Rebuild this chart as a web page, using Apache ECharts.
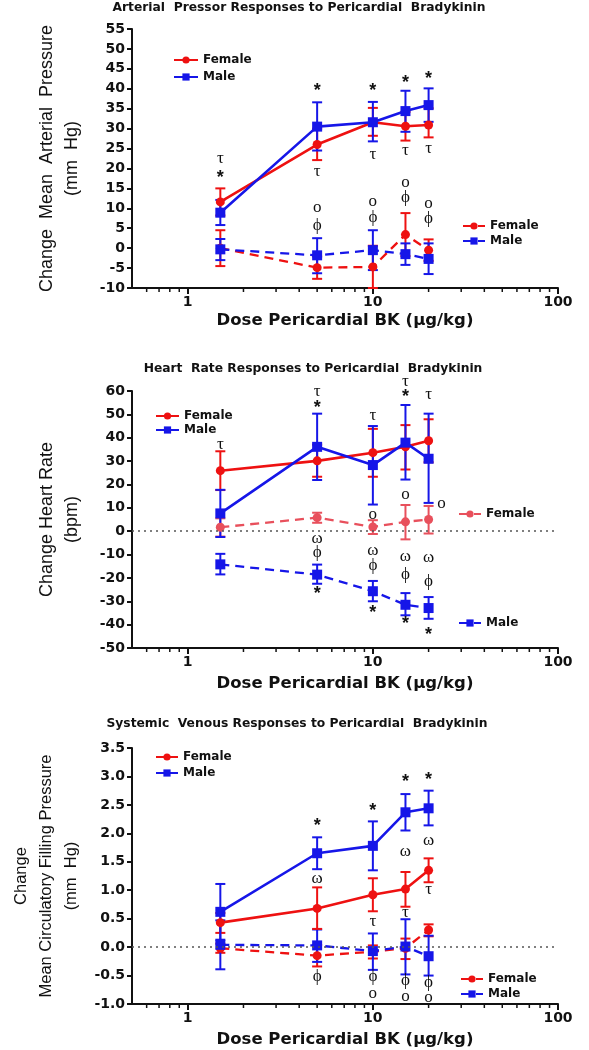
<!DOCTYPE html>
<html><head><meta charset="utf-8">
<script src="https://cdn.jsdelivr.net/npm/echarts@6/dist/echarts.min.js"></script>
<style>html,body{margin:0;padding:0;background:#fff}#c{width:589px;height:1050px}</style>
</head><body><div id="c"></div>
<script>
// ---------- data ----------
const DOSES = [1.5, 5, 10, 15, 20];
const X_MAJOR_TICKS = [1, 10, 100];
const X_MINOR_TICKS = [0.6, 0.7, 0.8, 0.9, 2, 3, 4, 5, 6, 7, 8, 9, 20, 30, 40, 50, 60, 70, 80, 90];

const TITLES = [
  'Arterial  Pressor Responses to Pericardial  Bradykinin',
  'Heart  Rate Responses to Pericardial  Bradykinin',
  'Systemic  Venous Responses to Pericardial  Bradykinin'
];
const Y_NAMES = [
  'Change  Mean  Arterial  Pressure\n(mm  Hg)',
  'Change Heart Rate\n(bpm)',
  'Change\nMean Circulatory Filling Pressure\n(mm  Hg)'
];
const X_NAME = 'Dose Pericardial BK (\u03bcg/kg)';

// Panel 1: mean arterial pressure (mm Hg)
const P1_FEMALE    = [11.6, 26.0, 31.6, 30.6, 30.9];
const P1_FEMALE_LO = [8.2, 22.1, 28.2, 27.0, 27.8];
const P1_FEMALE_HI = [15.0, 30.0, 35.2, 34.2, 35.1];
const P1_MALE      = [8.9, 30.5, 31.6, 34.4, 35.9];
const P1_MALE_LO   = [5.8, 24.5, 26.8, 29.2, 31.7];
const P1_MALE_HI   = [12.1, 36.6, 36.7, 39.5, 40.1];
const P1_FEMALE_D    = [0.0, -4.9, -4.7, 3.4, -0.5];
const P1_FEMALE_D_LO = [-4.5, -7.7, -10.0, -2.0, -3.2];
const P1_FEMALE_D_HI = [4.5, -2.1, 0.6, 8.8, 2.2];
const P1_MALE_D    = [-0.3, -1.8, -0.5, -1.5, -2.7];
const P1_MALE_D_LO = [-3.0, -6.3, -5.5, -4.2, -6.5];
const P1_MALE_D_HI = [2.3, 2.5, 4.5, 1.2, 1.2];
const P1_ANNOT = [
  [1.5, 22.5, '\u03c4'], [1.5, 18.7, '*'],
  [5, 40.4, '*'], [5, 19.3, '\u03c4'], [5, 10.3, 'o'], [5, 5.7, '\u03d5'],
  [10, 40.4, '*'], [10, 23.6, '\u03c4'], [10, 11.8, 'o'], [10, 7.6, '\u03d5'],
  [15, 42.5, '*'], [15, 24.6, '\u03c4'], [15, 16.5, 'o'], [15, 12.6, '\u03d5'],
  [20, 43.5, '*'], [20, 25.0, '\u03c4'], [20, 11.3, 'o'], [20, 7.4, '\u03d5']
];

// Panel 2: heart rate (bpm)
const P2_FEMALE    = [25.9, 30.1, 33.6, 36.1, 38.7];
const P2_FEMALE_LO = [17.6, 23.3, 23.3, 26.4, 29.5];
const P2_FEMALE_HI = [34.2, 37.0, 43.8, 45.4, 47.9];
const P2_MALE      = [7.6, 36.1, 28.3, 37.9, 31.0];
const P2_MALE_LO   = [-2.5, 21.9, 11.4, 22.1, 12.1];
const P2_MALE_HI   = [17.7, 50.3, 45.0, 54.0, 50.3];
const P2_FEMALE_D    = [1.7, 5.8, 1.8, 4.0, 5.0];
const P2_FEMALE_D_LO = [-2.3, 3.6, -1.2, -3.5, -1.0];
const P2_FEMALE_D_HI = [5.5, 7.9, 4.7, 11.2, 10.8];
const P2_MALE_D    = [-14.2, -18.6, -25.7, -31.5, -32.9];
const P2_MALE_D_LO = [-18.5, -22.5, -30.0, -36.0, -37.5];
const P2_MALE_D_HI = [-9.7, -14.3, -21.3, -26.5, -28.2];
const P2_ANNOT = [
  [1.5, 37.0, '\u03c4'],
  [5, 59.7, '\u03c4'], [5, 54.5, '*'], [5, -3.2, '\u03c9'], [5, -9.0, '\u03d5'], [5, -25.3, '*'],
  [10, 49.7, '\u03c4'], [10, 7.3, 'o'], [10, -8.2, '\u03c9'], [10, -14.6, '\u03d5'], [10, -33.2, '*'],
  [15, 64.0, '\u03c4'], [15, 59.3, '*'], [15, 15.7, 'o'], [15, -10.7, '\u03c9'], [15, -18.4, '\u03d5'], [15, -38.0, '*'],
  [20, 58.3, '\u03c4'], [23.5, 11.8, 'o'], [20, -11.4, '\u03c9'], [20, -21.7, '\u03d5'], [20, -42.7, '*']
];

// Panel 3: mean circulatory filling pressure (mm Hg)
const P3_FEMALE    = [0.43, 0.68, 0.92, 1.02, 1.35];
const P3_FEMALE_LO = [0.25, 0.32, 0.63, 0.71, 1.14];
const P3_FEMALE_HI = [0.60, 1.05, 1.21, 1.32, 1.56];
const P3_MALE      = [0.62, 1.65, 1.78, 2.37, 2.44];
const P3_MALE_LO   = [0.13, 1.37, 1.35, 2.05, 2.14];
const P3_MALE_HI   = [1.11, 1.93, 2.21, 2.69, 2.75];
const P3_FEMALE_D    = [-0.02, -0.15, -0.08, -0.02, 0.30];
const P3_FEMALE_D_LO = [-0.10, -0.34, -0.20, -0.21, 0.19];
const P3_FEMALE_D_HI = [0.06, 0.04, 0.03, 0.15, 0.40];
const P3_MALE_D    = [0.04, 0.03, -0.07, 0.01, -0.16];
const P3_MALE_D_LO = [-0.39, -0.26, -0.40, -0.48, -0.50];
const P3_MALE_D_HI = [0.47, 0.31, 0.24, 0.49, 0.20];
const P3_ANNOT = [
  [5, 2.2, '*'], [5, 1.21, '\u03c9'], [5, -0.52, '\u03d5'],
  [10, 2.47, '*'], [10, 0.45, '\u03c4'], [10, -0.51, '\u03d5'], [10, -0.81, 'o'],
  [15, 2.97, '*'], [15, 1.68, '\u03c9'], [15, 0.61, '\u03c4'], [15, -0.58, '\u03d5'], [15, -0.86, 'o'],
  [20, 3.0, '*'], [20, 1.87, '\u03c9'], [20, 1.02, '\u03c4'], [20, -0.62, '\u03d5'], [20, -0.88, 'o']
];

const Y_RANGES = [[-10, 55, 5], [-50, 60, 10], [-1, 3.5, 0.5]];

// ---------- styling / layout ----------
const RED = '#ee1111', BLUE = '#1616e8', PINK = '#e8505c', INK = '#111';
const GRIDS = [
  {left: 132, top: 29, width: 426, height: 259},
  {left: 132, top: 391, width: 426, height: 257},
  {left: 132, top: 748, width: 426, height: 256}
];
const TITLE_POS = [[299, 8], [313, 369], [297, 724]];
const X_NAME_GAP = [24, 27, 27];
const Y_NAME_SIZE = [18, 18, 16.5];
const TICK_FONT = '"DejaVu Sans"';

const PANELS = [
  {f: P1_FEMALE, flo: P1_FEMALE_LO, fhi: P1_FEMALE_HI, m: P1_MALE, mlo: P1_MALE_LO, mhi: P1_MALE_HI,
   fd: P1_FEMALE_D, fdlo: P1_FEMALE_D_LO, fdhi: P1_FEMALE_D_HI, md: P1_MALE_D, mdlo: P1_MALE_D_LO, mdhi: P1_MALE_D_HI,
   ann: P1_ANNOT, fdColor: RED, zero: false},
  {f: P2_FEMALE, flo: P2_FEMALE_LO, fhi: P2_FEMALE_HI, m: P2_MALE, mlo: P2_MALE_LO, mhi: P2_MALE_HI,
   fd: P2_FEMALE_D, fdlo: P2_FEMALE_D_LO, fdhi: P2_FEMALE_D_HI, md: P2_MALE_D, mdlo: P2_MALE_D_LO, mdhi: P2_MALE_D_HI,
   ann: P2_ANNOT, fdColor: PINK, zero: true},
  {f: P3_FEMALE, flo: P3_FEMALE_LO, fhi: P3_FEMALE_HI, m: P3_MALE, mlo: P3_MALE_LO, mhi: P3_MALE_HI,
   fd: P3_FEMALE_D, fdlo: P3_FEMALE_D_LO, fdhi: P3_FEMALE_D_HI, md: P3_MALE_D, mdlo: P3_MALE_D_LO, mdhi: P3_MALE_D_HI,
   ann: P3_ANNOT, fdColor: RED, zero: true}
];

// legend placements: [panel, seriesKeys, left, top, itemGap, itemWidth]
const LEGENDS = [
  [0, ['f', 'm'], 173, 53, 3, 24],
  [0, ['fd', 'md'], 462, 219, 1, 22],
  [1, ['f', 'm'], 155, 409, 0, 23],
  [1, ['fd'], 458, 507, 0, 22],
  [1, ['md'], 458, 616, 0, 22],
  [2, ['f', 'm'], 155, 750, 2, 22],
  [2, ['fd', 'md'], 460, 972, 1, 22]
];

function sname(p, key) { return (key[0] === 'f' ? 'Female' : 'Male') + '#' + p + key; }

function lineSeries(p, key, ys, color, symbol, dashed, extra) {
  return Object.assign({
    type: 'line', name: sname(p, key), xAxisIndex: p, yAxisIndex: p,
    data: DOSES.map((d, i) => [d, ys[i]]),
    symbol: symbol, symbolSize: symbol === 'circle' ? 9 : 10, showSymbol: true,
    lineStyle: {color: color, width: dashed ? 2.3 : 2.6, type: dashed ? [9, 6] : 'solid'},
    itemStyle: {color: color}, z: 3, animation: false, silent: true
  }, extra || {});
}
function errSeries(p, lo, hi, color) {
  return {
    type: 'custom', xAxisIndex: p, yAxisIndex: p, silent: true, animation: false, z: 3,
    data: DOSES.map((d, i) => [d, lo[i], hi[i]]),
    encode: {x: 0, y: [1, 2]},
    renderItem: function (params, api) {
      const a = api.coord([api.value(0), api.value(1)]);
      const b = api.coord([api.value(0), api.value(2)]);
      const w = 5, st = {stroke: color, lineWidth: 2};
      return {type: 'group', children: [
        {type: 'line', shape: {x1: a[0], y1: a[1], x2: b[0], y2: b[1]}, style: st},
        {type: 'line', shape: {x1: a[0] - w, y1: a[1], x2: a[0] + w, y2: a[1]}, style: st},
        {type: 'line', shape: {x1: b[0] - w, y1: b[1], x2: b[0] + w, y2: b[1]}, style: st}
      ]};
    }
  };
}
function annSeries(p, ann) {
  return {
    type: 'custom', xAxisIndex: p, yAxisIndex: p, silent: true, animation: false, z: 5,
    data: ann.map(a => [a[0], a[1]]),
    encode: {x: 0, y: 1},
    renderItem: function (params, api) {
      const a = ann[params.dataIndex];
      const pt = api.coord([api.value(0), api.value(1)]);
      const star = a[2] === '*';
      return {type: 'text', x: pt[0], y: pt[1] + (star ? 4 : 0), style: {
        text: a[2], fill: INK, align: 'center', verticalAlign: 'middle',
        font: star ? 'bold 18px "Liberation Sans"' : '17px "Liberation Serif"'
      }};
    }
  };
}
// minor log ticks (2..9 of each decade) drawn on the x axis through the axis scale
function minorTickSeries(p, yMin) {
  return {
    type: 'custom', xAxisIndex: p, yAxisIndex: p, silent: true, animation: false, z: 6, clip: false,
    data: X_MINOR_TICKS.map(v => [v, yMin]),
    encode: {x: 0, y: 1},
    renderItem: function (params, api) {
      const pt = api.coord([api.value(0), api.value(1)]);
      return {type: 'line', shape: {x1: pt[0], y1: pt[1], x2: pt[0], y2: pt[1] + 4},
        style: {stroke: INK, lineWidth: 1.5}};
    }
  };
}

const xAxes = [], yAxes = [], series = [], legends = [], graphics = [];
PANELS.forEach((P, p) => {
  const yr = Y_RANGES[p];
  xAxes.push({
    type: 'log', logBase: 10, gridIndex: p, min: 0.5, max: 100, position: 'bottom',
    name: X_NAME, nameLocation: 'middle', nameGap: X_NAME_GAP[p],
    nameTextStyle: {fontFamily: TICK_FONT, fontWeight: 'bold', fontSize: 16.5, color: INK},
    axisLine: {show: true, onZero: false, lineStyle: {color: INK, width: 2}},
    axisTick: {show: true, customValues: X_MAJOR_TICKS, length: 6, lineStyle: {color: INK, width: 2}},
    axisLabel: {show: true, customValues: X_MAJOR_TICKS, margin: 7, fontFamily: TICK_FONT, fontWeight: 'bold',
      fontSize: 14, color: INK, formatter: v => String(v)},
    splitLine: {show: false}
  });
  yAxes.push({
    type: 'value', gridIndex: p, min: yr[0], max: yr[1], interval: yr[2],
    name: Y_NAMES[p], nameLocation: 'middle', nameGap: 47, nameRotate: 90,
    nameTextStyle: {fontFamily: '"Liberation Sans"', fontSize: Y_NAME_SIZE[p], color: INK, lineHeight: 25},
    axisLine: {show: true, onZero: false, lineStyle: {color: INK, width: 2}},
    axisTick: {show: true, length: 5, lineStyle: {color: INK, width: 2}},
    axisLabel: {margin: 7, fontFamily: TICK_FONT, fontWeight: 'bold', fontSize: 14, color: INK,
      formatter: v => (yr[2] < 1 ? v.toFixed(1) : String(v))},
    splitLine: {show: false}
  });
  const zeroLine = P.zero ? {markLine: {silent: true, symbol: 'none', animation: false, label: {show: false},
    lineStyle: {color: '#555', type: [2, 4], width: 1.5}, data: [{yAxis: 0}]}} : {};
  series.push(lineSeries(p, 'fd', P.fd, P.fdColor, 'circle', true, zeroLine));
  series.push(errSeries(p, P.fdlo, P.fdhi, P.fdColor));
  series.push(lineSeries(p, 'md', P.md, BLUE, 'rect', true));
  series.push(errSeries(p, P.mdlo, P.mdhi, BLUE));
  series.push(lineSeries(p, 'f', P.f, RED, 'circle', false));
  series.push(errSeries(p, P.flo, P.fhi, RED));
  series.push(lineSeries(p, 'm', P.m, BLUE, 'rect', false));
  series.push(errSeries(p, P.mlo, P.mhi, BLUE));
  series.push(annSeries(p, P.ann));
  series.push(minorTickSeries(p, yr[0]));

  graphics.push({type: 'text', x: TITLE_POS[p][0], y: TITLE_POS[p][1], silent: true, style: {
    text: TITLES[p], align: 'center', verticalAlign: 'middle', fill: INK,
    font: 'bold 12.3px "DejaVu Sans"'}});
});

LEGENDS.forEach(L => {
  legends.push({
    orient: 'vertical', left: L[2], top: L[3], itemGap: L[4], itemWidth: L[5], itemHeight: 9,
    selectedMode: false, padding: 0,
    data: L[1].map(k => sname(L[0], k)),
    formatter: n => n.split('#')[0],
    textStyle: {fontFamily: TICK_FONT, fontWeight: 'bold', fontSize: 12, color: INK, lineHeight: 14}
  });
});

const chart = echarts.init(document.getElementById('c'), null, {renderer: 'canvas'});
chart.setOption({
  animation: false,
  backgroundColor: '#fff',
  grid: GRIDS,
  xAxis: xAxes,
  yAxis: yAxes,
  legend: legends,
  series: series,
  graphic: graphics
});
</script></body></html>
